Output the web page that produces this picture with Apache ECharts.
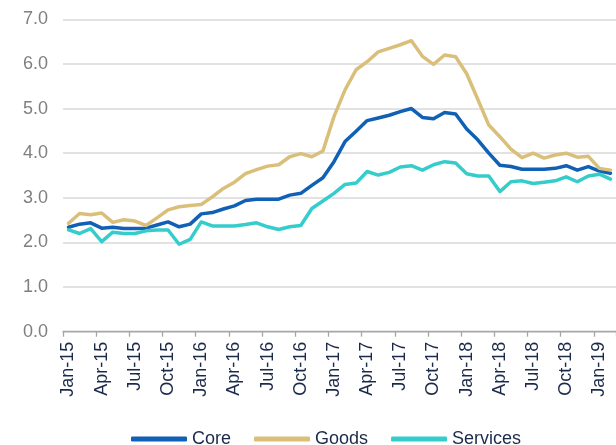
<!DOCTYPE html>
<html>
<head>
<meta charset="utf-8">
<script src="https://cdn.jsdelivr.net/npm/echarts@6/dist/echarts.min.js"></script>
<style>
html,body{margin:0;padding:0;background:#fff;}
#chart{width:616px;height:445px;}
</style>
</head>
<body>
<div id="chart"></div>
<script>
const months = ["Jan-15","Feb-15","Mar-15","Apr-15","May-15","Jun-15","Jul-15","Aug-15","Sep-15","Oct-15","Nov-15","Dec-15",
"Jan-16","Feb-16","Mar-16","Apr-16","May-16","Jun-16","Jul-16","Aug-16","Sep-16","Oct-16","Nov-16","Dec-16",
"Jan-17","Feb-17","Mar-17","Apr-17","May-17","Jun-17","Jul-17","Aug-17","Sep-17","Oct-17","Nov-17","Dec-17",
"Jan-18","Feb-18","Mar-18","Apr-18","May-18","Jun-18","Jul-18","Aug-18","Sep-18","Oct-18","Nov-18","Dec-18",
"Jan-19","Feb-19"];

const core = [2.34,2.41,2.44,2.32,2.34,2.31,2.31,2.32,2.39,2.46,2.35,2.41,
2.64,2.67,2.75,2.82,2.94,2.97,2.97,2.97,3.06,3.10,3.28,3.45,
3.81,4.26,4.49,4.73,4.79,4.85,4.93,5.00,4.80,4.77,4.91,4.88,
4.54,4.30,4.00,3.73,3.70,3.64,3.64,3.64,3.66,3.72,3.62,3.70,
3.60,3.55];

const goods = [2.43,2.65,2.62,2.66,2.45,2.51,2.48,2.38,2.55,2.73,2.80,2.83,
2.85,3.02,3.21,3.35,3.54,3.63,3.71,3.74,3.92,3.99,3.92,4.05,
4.82,5.42,5.87,6.05,6.27,6.35,6.43,6.52,6.17,5.99,6.20,6.16,
5.78,5.21,4.63,4.37,4.09,3.90,4.00,3.89,3.96,4.00,3.91,3.93,
3.66,3.62];

const services = [2.28,2.20,2.31,2.02,2.23,2.20,2.20,2.26,2.28,2.28,1.96,2.07,
2.46,2.37,2.37,2.37,2.40,2.44,2.35,2.29,2.35,2.38,2.76,2.93,
3.10,3.30,3.33,3.59,3.51,3.57,3.69,3.72,3.62,3.74,3.81,3.78,
3.54,3.49,3.49,3.14,3.36,3.38,3.32,3.35,3.38,3.47,3.36,3.49,
3.53,3.42];

const seriesNames = ["Core","Goods","Services"];
const colors = ["#1060B6","#D9BF7A","#35CDCB"];
const yTicks = {min:0, max:7, interval:1};

const font = "Liberation Sans, Arial, sans-serif";
const chart = echarts.init(document.getElementById('chart'), null, {renderer:'canvas'});
const dataSets = [core, goods, services];
chart.setOption({
  animation:false,
  color: colors,
  grid:{left:63, right:-2, top:19.3, bottom:113.3, containLabel:false},
  legend:{
    data: seriesNames,
    left:126, top:425,
    itemWidth:56, itemHeight:5, itemGap:23,
    icon:'roundRect',
    textStyle:{fontFamily:font, fontSize:18, color:'#1B2A4A'}
  },
  xAxis:{
    type:'category',
    data: months,
    boundaryGap:true,
    axisLine:{show:true, lineStyle:{color:'#A6A6A6', width:1.3}},
    axisTick:{show:true, interval:2, length:5, lineStyle:{color:'#A6A6A6', width:1.3}},
    axisLabel:{interval:2, rotate:90, margin:10, fontFamily:font, fontSize:18, color:'#1B2A4A'},
    splitLine:{show:false}
  },
  yAxis:{
    type:'value',
    min:yTicks.min, max:yTicks.max, interval:yTicks.interval,
    axisLine:{show:false},
    axisTick:{show:false},
    axisLabel:{margin:15, fontFamily:font, fontSize:18, color:'#7F7F7F', formatter:v=>v.toFixed(1)},
    splitLine:{lineStyle:{color:'#D9D9D9', width:1.5}}
  },
  series: seriesNames.map((n,i)=>({
    name:n, type:'line', data:dataSets[i],
    showSymbol:false, symbol:'none',
    lineStyle:{width:3.5, color:colors[i], cap:'round', join:'round'},
    itemStyle:{color:colors[i]}
  }))
});
</script>
</body>
</html>
